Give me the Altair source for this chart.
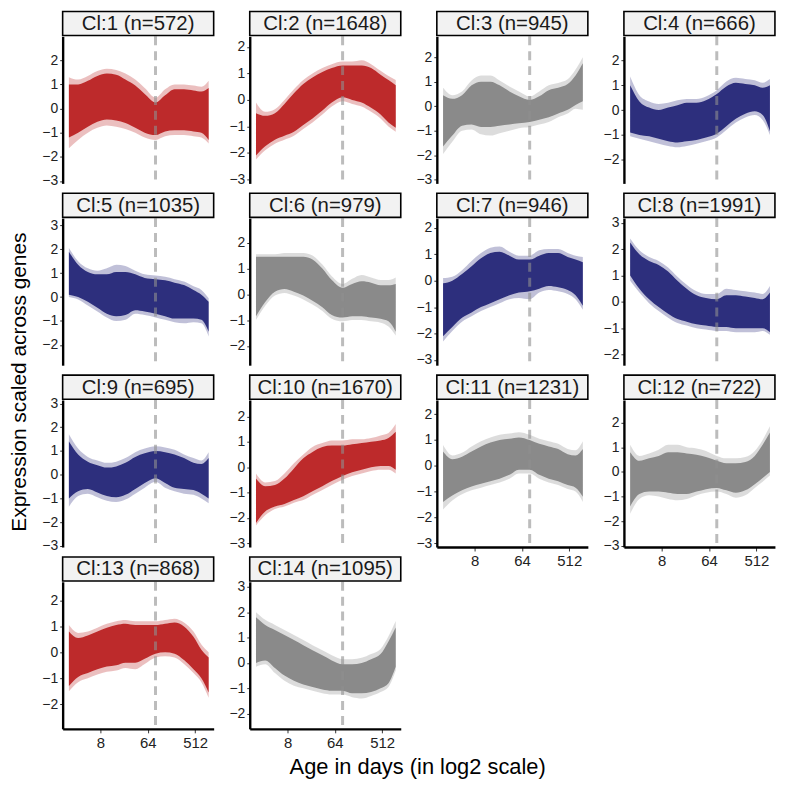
import altair as alt
import pandas as pd

# ---------------- data ----------------
AGE_DAYS = [2, 3, 4.6, 7, 10.6, 16, 24, 37, 56, 90, 137, 208, 315, 478, 676, 930]
BIRTH_DAY = [90]
X_TICKS = [8, 64, 512]
X_DOMAIN = [1.52, 1160]

CLUSTER_ID = [1, 2, 3, 4, 5, 6, 7, 8, 9, 10, 11, 12, 13, 14]
CLUSTER_N = [572, 1648, 945, 666, 1035, 979, 946, 1991, 695, 1670, 1231, 722, 868, 1095]
CLUSTER_TREND = ["red", "red", "grey", "blue", "blue", "grey", "blue",
                 "blue", "blue", "red", "grey", "grey", "red", "grey"]
Y_LOW = [-3.1, -3.15, -3.15, -2.95, -2.85, -2.75, -3.2, -2.4, -3.05, -3.15, -3.15, -3.05, -2.95, -2.6]
Y_HIGH = [2.99, 2.4, 2.85, 2.97, 3.3, 2.95, 2.37, 3.17, 3.15, 2.65, 2.55, 2.92, 2.72, 3.2]

CL1_OUTER_HI = [1.3, 1.2, 1.35, 1.55, 1.65, 1.6, 1.45, 1.2, 0.85, 0.45, 0.8, 1.0, 1.0, 0.95, 0.9, 1.15]
CL1_CORE_HI = [1.0, 1.0, 1.15, 1.35, 1.45, 1.4, 1.2, 0.95, 0.6, 0.25, 0.55, 0.8, 0.8, 0.75, 0.7, 0.85]
CL1_CORE_LO = [-1.2, -1.0, -0.75, -0.55, -0.45, -0.5, -0.6, -0.8, -1.0, -1.1, -0.95, -0.9, -0.9, -0.95, -1.0, -1.3]
CL1_OUTER_LO = [-1.65, -1.3, -1.0, -0.8, -0.7, -0.75, -0.85, -1.0, -1.2, -1.3, -1.15, -1.1, -1.1, -1.15, -1.2, -1.45]

CL2_OUTER_HI = [-0.1, -0.45, -0.35, 0.0, 0.4, 0.75, 1.0, 1.2, 1.35, 1.45, 1.45, 1.5, 1.35, 1.1, 0.9, 0.75]
CL2_CORE_HI = [-0.5, -0.6, -0.5, -0.15, 0.25, 0.6, 0.85, 1.05, 1.2, 1.3, 1.3, 1.3, 1.2, 0.95, 0.75, 0.55]
CL2_CORE_LO = [-2.1, -1.75, -1.5, -1.35, -1.2, -0.95, -0.7, -0.4, -0.1, 0.1, 0.0, -0.1, -0.3, -0.55, -0.85, -1.05]
CL2_OUTER_LO = [-2.25, -1.9, -1.65, -1.5, -1.35, -1.1, -0.85, -0.55, -0.25, -0.05, -0.15, -0.25, -0.45, -0.7, -1.0, -1.2]

CL3_OUTER_HI = [0.75, 0.45, 0.6, 1.05, 1.25, 1.25, 1.05, 0.8, 0.6, 0.4, 0.6, 0.85, 0.95, 1.1, 1.5, 2.0]
CL3_CORE_HI = [0.45, 0.3, 0.45, 0.85, 1.0, 1.0, 0.85, 0.6, 0.4, 0.25, 0.4, 0.65, 0.75, 0.9, 1.25, 1.75]
CL3_CORE_LO = [-1.65, -1.2, -0.8, -0.75, -0.85, -0.85, -0.8, -0.75, -0.7, -0.65, -0.55, -0.45, -0.3, -0.15, 0.05, 0.2]
CL3_OUTER_LO = [-1.95, -1.45, -1.0, -0.95, -1.15, -1.2, -1.1, -1.0, -0.9, -0.85, -0.75, -0.65, -0.45, -0.3, -0.1, -0.15]

CL4_OUTER_HI = [1.35, 0.6, 0.35, 0.25, 0.3, 0.4, 0.45, 0.45, 0.55, 0.8, 1.15, 1.3, 1.25, 1.2, 1.1, 1.25]
CL4_CORE_HI = [1.0, 0.35, 0.1, 0.0, 0.1, 0.2, 0.3, 0.3, 0.4, 0.65, 0.95, 1.1, 1.05, 1.0, 0.9, 1.0]
CL4_CORE_LO = [-0.9, -1.0, -1.05, -1.15, -1.25, -1.3, -1.25, -1.2, -1.1, -0.95, -0.65, -0.35, -0.15, -0.05, -0.2, -0.85]
CL4_OUTER_LO = [-1.05, -1.15, -1.25, -1.35, -1.45, -1.5, -1.45, -1.35, -1.25, -1.1, -0.8, -0.5, -0.3, -0.2, -0.4, -1.0]

CL5_OUTER_HI = [2.05, 1.5, 1.2, 1.1, 1.2, 1.35, 1.3, 1.1, 0.95, 0.9, 0.85, 0.75, 0.65, 0.45, 0.3, -0.05]
CL5_CORE_HI = [1.9, 1.35, 1.05, 0.95, 0.95, 1.05, 1.05, 0.95, 0.8, 0.75, 0.7, 0.6, 0.5, 0.3, 0.1, -0.2]
CL5_CORE_LO = [0.1, 0.0, -0.2, -0.45, -0.7, -0.8, -0.75, -0.55, -0.6, -0.7, -0.8, -0.9, -0.9, -0.9, -0.95, -1.45]
CL5_OUTER_LO = [0.0, -0.1, -0.35, -0.6, -0.85, -1.0, -0.95, -0.7, -0.75, -0.85, -0.95, -1.05, -1.1, -1.05, -1.1, -1.65]

CL6_OUTER_HI = [1.55, 1.55, 1.55, 1.6, 1.6, 1.6, 1.5, 1.15, 0.7, 0.4, 0.6, 0.75, 0.65, 0.55, 0.55, 0.65]
CL6_CORE_HI = [1.45, 1.45, 1.45, 1.45, 1.45, 1.45, 1.35, 1.0, 0.55, 0.25, 0.4, 0.5, 0.45, 0.35, 0.35, 0.4]
CL6_CORE_LO = [-0.85, -0.3, 0.1, 0.2, 0.1, -0.05, -0.25, -0.5, -0.8, -0.9, -0.85, -0.85, -0.9, -0.95, -1.05, -1.45]
CL6_OUTER_LO = [-1.0, -0.45, -0.05, 0.05, -0.05, -0.2, -0.4, -0.65, -0.95, -1.05, -1.0, -1.0, -1.05, -1.1, -1.25, -1.6]

CL7_OUTER_HI = [0.1, 0.15, 0.4, 0.75, 1.05, 1.25, 1.3, 1.1, 0.95, 0.95, 1.15, 1.2, 1.2, 1.05, 0.95, 0.9]
CL7_CORE_HI = [-0.1, 0.0, 0.25, 0.55, 0.85, 1.05, 1.1, 0.95, 0.8, 0.8, 0.95, 1.05, 1.05, 0.9, 0.8, 0.7]
CL7_CORE_LO = [-2.1, -1.75, -1.4, -1.2, -1.0, -0.85, -0.7, -0.55, -0.45, -0.4, -0.3, -0.2, -0.25, -0.35, -0.55, -0.95]
CL7_OUTER_LO = [-2.3, -1.9, -1.55, -1.35, -1.15, -1.0, -0.85, -0.7, -0.65, -0.7, -0.45, -0.35, -0.4, -0.5, -0.7, -1.1]

CL8_OUTER_HI = [2.4, 1.95, 1.7, 1.55, 1.3, 0.95, 0.65, 0.4, 0.3, 0.3, 0.5, 0.45, 0.4, 0.35, 0.3, 0.6]
CL8_CORE_HI = [2.25, 1.8, 1.55, 1.4, 1.15, 0.8, 0.5, 0.25, 0.15, 0.1, 0.25, 0.25, 0.2, 0.15, 0.1, 0.35]
CL8_CORE_LO = [1.0, 0.5, 0.1, -0.2, -0.45, -0.65, -0.75, -0.85, -0.9, -0.95, -0.95, -1.0, -1.0, -1.0, -1.0, -1.15]
CL8_OUTER_LO = [0.8, 0.35, -0.05, -0.35, -0.6, -0.8, -0.9, -1.0, -1.05, -1.1, -1.1, -1.15, -1.15, -1.15, -1.1, -1.25]

CL9_OUTER_HI = [1.7, 1.1, 0.75, 0.6, 0.5, 0.55, 0.7, 0.95, 1.1, 1.2, 1.15, 1.05, 0.85, 0.7, 0.6, 0.95]
CL9_CORE_HI = [1.4, 0.85, 0.55, 0.4, 0.3, 0.35, 0.5, 0.75, 0.9, 1.0, 0.95, 0.85, 0.7, 0.5, 0.45, 0.7]
CL9_CORE_LO = [-1.0, -0.7, -0.6, -0.75, -0.9, -0.95, -0.85, -0.6, -0.35, -0.15, -0.35, -0.55, -0.6, -0.65, -0.8, -1.0]
CL9_OUTER_LO = [-1.35, -0.9, -0.8, -0.95, -1.1, -1.15, -1.05, -0.8, -0.55, -0.3, -0.55, -0.7, -0.8, -0.85, -1.0, -1.2]

CL10_OUTER_HI = [-0.25, -0.6, -0.55, -0.25, 0.15, 0.5, 0.8, 0.95, 1.05, 1.05, 1.1, 1.1, 1.15, 1.25, 1.35, 1.7]
CL10_CORE_HI = [-0.45, -0.75, -0.7, -0.45, -0.05, 0.35, 0.6, 0.8, 0.85, 0.85, 0.9, 0.95, 1.0, 1.05, 1.15, 1.4]
CL10_CORE_LO = [-2.2, -1.75, -1.55, -1.45, -1.3, -1.15, -0.95, -0.75, -0.55, -0.35, -0.2, -0.1, 0.0, 0.05, 0.05, -0.1]
CL10_OUTER_LO = [-2.3, -1.9, -1.65, -1.55, -1.4, -1.3, -1.1, -0.9, -0.7, -0.5, -0.35, -0.25, -0.15, -0.1, -0.1, -0.25]

CL11_OUTER_HI = [0.8, 0.4, 0.5, 0.75, 0.95, 1.1, 1.2, 1.25, 1.3, 1.2, 1.05, 0.95, 0.85, 0.65, 0.6, 0.95]
CL11_CORE_HI = [0.55, 0.25, 0.35, 0.55, 0.75, 0.9, 1.0, 1.05, 1.1, 1.0, 0.85, 0.75, 0.65, 0.45, 0.4, 0.65]
CL11_CORE_LO = [-1.4, -1.15, -0.95, -0.8, -0.7, -0.6, -0.5, -0.35, -0.15, -0.15, -0.35, -0.5, -0.6, -0.75, -0.85, -1.2]
CL11_OUTER_LO = [-1.7, -1.35, -1.1, -0.95, -0.85, -0.75, -0.65, -0.5, -0.3, -0.3, -0.5, -0.65, -0.75, -0.9, -1.0, -1.4]

CL12_OUTER_HI = [1.1, 0.65, 0.75, 0.9, 1.1, 1.1, 1.0, 0.95, 0.85, 0.65, 0.55, 0.55, 0.6, 0.85, 1.3, 1.85]
CL12_CORE_HI = [0.8, 0.45, 0.55, 0.65, 0.8, 0.8, 0.75, 0.7, 0.6, 0.45, 0.35, 0.35, 0.4, 0.65, 1.1, 1.6]
CL12_CORE_LO = [-1.4, -0.9, -0.8, -0.8, -0.85, -0.9, -0.9, -0.8, -0.7, -0.65, -0.75, -0.85, -0.75, -0.5, -0.25, 0.0]
CL12_OUTER_LO = [-1.7, -1.1, -0.95, -1.0, -1.1, -1.15, -1.1, -0.95, -0.85, -0.8, -0.9, -1.05, -0.95, -0.65, -0.4, -0.15]

CL13_OUTER_HI = [1.05, 0.75, 0.8, 0.95, 1.1, 1.2, 1.25, 1.2, 1.2, 1.2, 1.25, 1.3, 1.15, 0.8, 0.3, 0.0]
CL13_CORE_HI = [0.8, 0.55, 0.65, 0.8, 0.95, 1.05, 1.1, 1.05, 1.05, 1.05, 1.1, 1.15, 1.0, 0.6, 0.1, -0.2]
CL13_CORE_LO = [-1.3, -0.95, -0.8, -0.65, -0.55, -0.5, -0.4, -0.4, -0.25, -0.05, 0.0, -0.05, -0.3, -0.65, -1.0, -1.55]
CL13_OUTER_LO = [-1.5, -1.15, -1.0, -0.85, -0.75, -0.7, -0.6, -0.65, -0.45, -0.2, -0.15, -0.2, -0.45, -0.8, -1.15, -1.75]

CL14_OUTER_HI = [2.0, 1.7, 1.5, 1.3, 1.1, 0.9, 0.7, 0.5, 0.3, 0.15, 0.15, 0.2, 0.35, 0.55, 1.05, 1.65]
CL14_CORE_HI = [1.8, 1.5, 1.3, 1.1, 0.9, 0.7, 0.5, 0.3, 0.1, -0.05, -0.05, 0.0, 0.15, 0.35, 0.85, 1.4]
CL14_CORE_LO = [0.0, 0.1, -0.2, -0.5, -0.7, -0.85, -0.95, -1.05, -1.1, -1.1, -1.2, -1.2, -1.15, -1.0, -0.8, -0.15]
CL14_OUTER_LO = [-0.15, -0.05, -0.4, -0.7, -0.9, -1.0, -1.1, -1.2, -1.25, -1.25, -1.35, -1.4, -1.3, -1.15, -0.95, -0.3]

BANDS = {
    1: (CL1_OUTER_HI, CL1_CORE_HI, CL1_CORE_LO, CL1_OUTER_LO),
    2: (CL2_OUTER_HI, CL2_CORE_HI, CL2_CORE_LO, CL2_OUTER_LO),
    3: (CL3_OUTER_HI, CL3_CORE_HI, CL3_CORE_LO, CL3_OUTER_LO),
    4: (CL4_OUTER_HI, CL4_CORE_HI, CL4_CORE_LO, CL4_OUTER_LO),
    5: (CL5_OUTER_HI, CL5_CORE_HI, CL5_CORE_LO, CL5_OUTER_LO),
    6: (CL6_OUTER_HI, CL6_CORE_HI, CL6_CORE_LO, CL6_OUTER_LO),
    7: (CL7_OUTER_HI, CL7_CORE_HI, CL7_CORE_LO, CL7_OUTER_LO),
    8: (CL8_OUTER_HI, CL8_CORE_HI, CL8_CORE_LO, CL8_OUTER_LO),
    9: (CL9_OUTER_HI, CL9_CORE_HI, CL9_CORE_LO, CL9_OUTER_LO),
    10: (CL10_OUTER_HI, CL10_CORE_HI, CL10_CORE_LO, CL10_OUTER_LO),
    11: (CL11_OUTER_HI, CL11_CORE_HI, CL11_CORE_LO, CL11_OUTER_LO),
    12: (CL12_OUTER_HI, CL12_CORE_HI, CL12_CORE_LO, CL12_OUTER_LO),
    13: (CL13_OUTER_HI, CL13_CORE_HI, CL13_CORE_LO, CL13_OUTER_LO),
    14: (CL14_OUTER_HI, CL14_CORE_HI, CL14_CORE_LO, CL14_OUTER_LO),
}

COLORS = {"red": "#BD2A2B", "blue": "#2D2F7D", "grey": "#8A8A8A"}
Y_TITLE = "Expression scaled across genes"
X_TITLE = "Age in days (in log2 scale)"

# ---------------- layout ----------------
FONT = "Liberation Sans"
W = 152
H = 148
STRIP_H = 25
BOTTOM_PANELS = {11, 12, 13, 14}


def make_panel(idx):
    cid = CLUSTER_ID[idx]
    ohi, chi, clo, olo = BANDS[cid]
    df = pd.DataFrame({"age": AGE_DAYS, "ohi": ohi, "chi": chi, "clo": clo, "olo": olo})
    color = COLORS[CLUSTER_TREND[idx]]
    lo, hi = Y_LOW[idx], Y_HIGH[idx]
    yticks = [k for k in range(-4, 5) if lo <= k <= hi]

    xscale = alt.Scale(type="log", base=2, domain=X_DOMAIN, nice=False)
    yscale = alt.Scale(domain=[lo, hi], nice=False, zero=False)
    yaxis = alt.Axis(values=yticks, title=None, grid=False, domainColor="black",
                     domainWidth=2.4, tickColor="#333333", tickSize=3, tickWidth=1,
                     labelFont=FONT, labelFontSize=14, labelColor="#222222",
                     labelPadding=2, format="d", labelOverlap=False, labelFlush=False,
                     labelBound=False)
    if cid in BOTTOM_PANELS:
        xaxis = alt.Axis(values=X_TICKS, title=None, grid=False, domainColor="black",
                         domainWidth=2.4, tickColor="#333333", tickSize=4,
                         labelFont=FONT, labelFontSize=15, labelColor="#222222",
                         labelPadding=3, format="d", labelFlush=False,
                         labelOverlap=False)
    else:
        xaxis = None

    base = alt.Chart(df)
    outer = base.mark_area(interpolate="monotone", color=color, opacity=0.3).encode(
        x=alt.X("age:Q", scale=xscale, axis=xaxis),
        y=alt.Y("olo:Q", scale=yscale, axis=yaxis), y2="ohi:Q")
    core = base.mark_area(interpolate="monotone", color=color, opacity=1).encode(
        x=alt.X("age:Q", scale=xscale, axis=xaxis),
        y=alt.Y("clo:Q", scale=yscale, axis=yaxis), y2="chi:Q")
    rule = alt.Chart(pd.DataFrame({"age": BIRTH_DAY})).mark_rule(
        color="#8f8f8f", opacity=0.6, strokeWidth=3, strokeDash=[9, 6]).encode(
        x=alt.X("age:Q", scale=xscale, axis=xaxis))

    label = f"Cl:{cid} (n={CLUSTER_N[idx]})"
    sdf = pd.DataFrame({"label": [label]})
    rect = alt.Chart(sdf).mark_rect(fill="#F2F2F2", stroke="black", strokeWidth=1.6).encode(
        x=alt.value(0), x2=alt.value(W), y=alt.value(-STRIP_H), y2=alt.value(-0.8))
    txt = alt.Chart(sdf).mark_text(font=FONT, fontSize=20.5, color="#1a1a1a",
                                   align="center", baseline="middle").encode(
        x=alt.value(W / 2), y=alt.value(-STRIP_H / 2), text="label:N")

    layers = [outer, core, rule, rect, txt]

    if cid == 9:
        layers.append(alt.Chart(pd.DataFrame({"t": [Y_TITLE]})).mark_text(
            angle=270, font=FONT, fontSize=21, color="black", align="center", baseline="middle"
        ).encode(x=alt.value(-43), y=alt.value(-18), text="t:N"))
    if cid == 14:
        layers.append(alt.Chart(pd.DataFrame({"t": [X_TITLE]})).mark_text(
            font=FONT, fontSize=22, color="black", align="center", baseline="middle"
        ).encode(x=alt.value(169), y=alt.value(186), text="t:N"))

    return alt.layer(*layers).properties(
        width=W, height=H,
        view=alt.ViewBackground(stroke="transparent", strokeWidth=0))


panels = [make_panel(i) for i in range(len(CLUSTER_ID))]

chart = alt.concat(*panels, columns=4, spacing={"row": 35, "column": 36.3},
                   bounds="flush").properties(
    padding={"left": 0, "top": 0, "right": 5, "bottom": 5}
).configure(font=FONT).configure_view(strokeWidth=0, stroke="transparent").configure_axis(
    labelOverlap=False)

chart.save("out.html", embed_options={"renderer": "svg", "actions": False})
